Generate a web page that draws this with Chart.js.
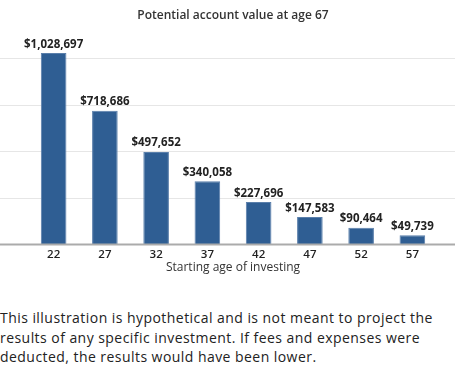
<!DOCTYPE html>
<html>
<head>
<meta charset="utf-8">
<script src="https://cdn.jsdelivr.net/npm/chart.js@4.4.1/dist/chart.umd.min.js"></script>
<style>
  html, body { margin: 0; padding: 0; background: #fff; }
  body { width: 455px; height: 366px; overflow: hidden; font-family: "Open Sans", sans-serif; }
  .chartbox { position: relative; width: 455px; height: 280px; }
  .note { margin: 28px 0 0 0; font-size: 14px; line-height: 19.5px; letter-spacing: 0.45px; color: #222; white-space: nowrap; }
</style>
</head>
<body>
<div class="chartbox"><canvas id="myChart"></canvas></div>
<p class="note">This illustration is hypothetical and is not meant to project the<br>results of any specific investment. If fees and expenses were<br>deducted, the results would have been lower.</p>

<script>
const startAges = ['22', '27', '32', '37', '42', '47', '52', '57'];
const accountValues = [1028697, 718686, 497652, 340058, 227696, 147583, 90464, 49739];
const gridStep = 250000;

const fmt = v => '$' + v.toLocaleString('en-US');

// light horizontal rules across the whole width, baseline drawn over the bars
const gridLines = {
  id: 'gridLines',
  beforeDatasetsDraw(chart) {
    const { ctx, width } = chart;
    const y = chart.scales.y;
    ctx.save();
    ctx.strokeStyle = '#e6e6e6';
    ctx.lineWidth = 1;
    for (let v = gridStep; v <= y.max; v += gridStep) {
      const py = Math.round(y.getPixelForValue(v)) + 0.5;
      ctx.beginPath();
      ctx.moveTo(0, py);
      ctx.lineTo(width, py);
      ctx.stroke();
    }
    ctx.restore();
  },
  afterDatasetsDraw(chart) {
    const { ctx, width } = chart;
    const py = chart.scales.y.getPixelForValue(0);
    ctx.save();
    ctx.strokeStyle = '#ababab';
    ctx.lineWidth = 2;
    ctx.beginPath();
    ctx.moveTo(0, py);
    ctx.lineTo(width, py);
    ctx.stroke();
    ctx.restore();
  }
};

const valueLabels = {
  id: 'valueLabels',
  afterDatasetsDraw(chart) {
    const { ctx } = chart;
    const ds = chart.data.datasets[0];
    ctx.save();
    ctx.font = '700 11.5px "Open Sans"';
    ctx.fillStyle = '#222';
    ctx.textAlign = 'center';
    ctx.textBaseline = 'bottom';
    chart.getDatasetMeta(0).data.forEach((bar, i) => {
      ctx.fillText(fmt(ds.data[i]), bar.x, bar.y - 3);
    });
    ctx.restore();
  }
};

const ctx = document.getElementById('myChart').getContext('2d');
new Chart(ctx, {
  type: 'bar',
  data: {
    labels: startAges,
    datasets: [{
      label: 'Potential account value',
      data: accountValues,
      backgroundColor: '#2f5e93',
      borderColor: '#5a7fab',
      borderWidth: { top: 1, left: 1, right: 1, bottom: 0 },
      categoryPercentage: 1,
      barPercentage: 0.5
    }]
  },
  options: {
    responsive: true,
    maintainAspectRatio: false,
    animation: false,
    layout: { padding: { left: 28, right: 17, top: 0, bottom: 0 } },
    plugins: {
      legend: { display: false },
      tooltip: { enabled: false },
      title: {
        display: true,
        text: 'Potential account value at age 67',
        color: '#333',
        font: { family: 'Open Sans', size: 12, weight: '600', lineHeight: 1.2 },
        padding: { top: 8, bottom: 9 }
      }
    },
    scales: {
      x: {
        grid: { display: false, drawTicks: false },
        border: { display: false },
        ticks: {
          color: '#222',
          padding: 4,
          font: { family: 'Open Sans', size: 11.5, weight: '600', lineHeight: 1 }
        },
        title: {
          display: true,
          text: 'Starting age of investing',
          color: '#333',
          font: { family: 'Open Sans', size: 12, lineHeight: 1 },
          padding: { top: -2, bottom: 6 }
        }
      },
      y: {
        display: false,
        min: 0,
        max: 1145000,
        ticks: { stepSize: gridStep }
      }
    }
  },
  plugins: [gridLines, valueLabels]
});
</script>
</body>
</html>
